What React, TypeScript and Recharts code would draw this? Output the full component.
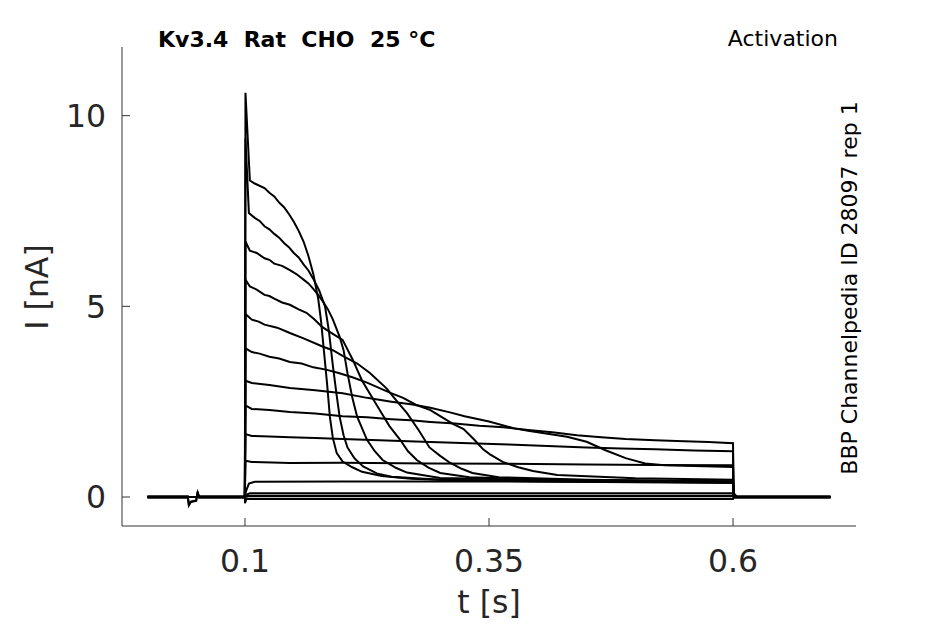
import React from "react";
import { LineChart, Line, XAxis, YAxis } from "recharts";

// current traces, [t (s), I (nA)], one per voltage step
const trace01: [number, number][] = [
  [0, 0], [0.0999, 0], [0.1005, 10.6], [0.105, 8.3], [0.11, 8.22], [0.12, 8.1], [0.125, 7.98],
  [0.13, 7.88], [0.135, 7.72], [0.14, 7.6], [0.145, 7.42], [0.15, 7.22], [0.155, 6.98], [0.16, 6.7],
  [0.165, 6.32], [0.17, 5.85], [0.175, 5.2], [0.178, 4.6], [0.181, 3.8], [0.184, 3.0], [0.187, 2.1],
  [0.19, 1.55], [0.194, 1.15], [0.2, 0.93], [0.21, 0.78], [0.22, 0.66], [0.24, 0.55], [0.27, 0.48],
  [0.3, 0.45], [0.4, 0.42], [0.5, 0.4], [0.6, 0.38], [0.6005, 0.08], [0.604, 0], [0.7, 0],
];
const trace02: [number, number][] = [
  [0, 0], [0.0999, 0], [0.1005, 9.4], [0.104, 7.45], [0.11, 7.32], [0.115, 7.24], [0.12, 7.1],
  [0.125, 7.02], [0.13, 6.9], [0.135, 6.8], [0.14, 6.66], [0.145, 6.55], [0.15, 6.4], [0.155, 6.28],
  [0.16, 6.1], [0.165, 5.94], [0.17, 5.72], [0.176, 5.42], [0.182, 5.0], [0.186, 4.35], [0.19, 3.45],
  [0.194, 2.65], [0.197, 2.1], [0.201, 1.62], [0.205, 1.3], [0.212, 1.02], [0.221, 0.8], [0.235, 0.62],
  [0.25, 0.53], [0.3, 0.45], [0.4, 0.41], [0.5, 0.39], [0.6, 0.37], [0.6005, 0.08], [0.604, 0], [0.7, 0],
];
const trace03: [number, number][] = [
  [0, 0], [0.0999, 0], [0.1005, 6.7], [0.105, 6.46], [0.112, 6.4], [0.12, 6.26], [0.125, 6.22],
  [0.13, 6.12], [0.138, 6.06], [0.146, 5.95], [0.153, 5.84], [0.16, 5.7], [0.165, 5.6], [0.17, 5.46],
  [0.175, 5.3], [0.18, 5.12], [0.185, 4.92], [0.19, 4.66], [0.197, 4.2], [0.201, 3.85], [0.205, 3.25],
  [0.21, 2.6], [0.215, 2.1], [0.225, 1.5], [0.233, 1.2], [0.241, 0.97], [0.255, 0.76], [0.266, 0.64],
  [0.3, 0.5], [0.4, 0.45], [0.5, 0.42], [0.6, 0.4], [0.6005, 0.08], [0.604, 0], [0.7, 0],
];
const trace04: [number, number][] = [
  [0, 0], [0.0999, 0], [0.1005, 5.7], [0.105, 5.52], [0.112, 5.44], [0.12, 5.3], [0.125, 5.27],
  [0.13, 5.2], [0.138, 5.1], [0.146, 5.04], [0.155, 4.92], [0.163, 4.83], [0.171, 4.66], [0.179, 4.46],
  [0.19, 4.28], [0.2, 4.12], [0.21, 3.62], [0.22, 3.05], [0.23, 2.62], [0.238, 2.28], [0.248, 1.86],
  [0.259, 1.5], [0.267, 1.2], [0.276, 0.97], [0.288, 0.77], [0.3, 0.63], [0.33, 0.52], [0.4, 0.46],
  [0.5, 0.43], [0.6, 0.41], [0.6005, 0.08], [0.604, 0], [0.7, 0],
];
const trace05: [number, number][] = [
  [0, 0], [0.0999, 0], [0.1005, 4.8], [0.107, 4.65], [0.114, 4.6], [0.12, 4.52], [0.133, 4.44],
  [0.146, 4.3], [0.16, 4.16], [0.18, 3.94], [0.19, 3.85], [0.2, 3.7], [0.215, 3.5], [0.228, 3.25],
  [0.245, 2.85], [0.256, 2.5], [0.266, 2.2], [0.278, 1.75], [0.289, 1.3], [0.3, 1.08], [0.31, 0.9],
  [0.322, 0.74], [0.333, 0.63], [0.36, 0.52], [0.45, 0.45], [0.6, 0.41], [0.6005, 0.08], [0.604, 0], [0.7, 0],
];
const trace06: [number, number][] = [
  [0, 0], [0.0999, 0], [0.1005, 3.9], [0.107, 3.8], [0.115, 3.76], [0.125, 3.68], [0.135, 3.63],
  [0.146, 3.54], [0.158, 3.5], [0.17, 3.4], [0.183, 3.34], [0.196, 3.25], [0.21, 3.14], [0.225, 3.0],
  [0.249, 2.73], [0.262, 2.6], [0.275, 2.42], [0.29, 2.28], [0.3, 2.12], [0.313, 1.92], [0.324, 1.78],
  [0.335, 1.5], [0.344, 1.25], [0.351, 1.12], [0.364, 0.92], [0.38, 0.78], [0.395, 0.68], [0.42, 0.58],
  [0.5, 0.49], [0.6, 0.45], [0.6005, 0.08], [0.604, 0], [0.7, 0],
];
const trace07: [number, number][] = [
  [0, 0], [0.0999, 0], [0.1005, 3.05], [0.107, 2.99], [0.125, 2.94], [0.146, 2.86], [0.172, 2.8],
  [0.2, 2.72], [0.225, 2.6], [0.25, 2.5], [0.27, 2.43], [0.29, 2.34], [0.31, 2.22], [0.325, 2.12],
  [0.35, 1.98], [0.376, 1.8], [0.39, 1.74], [0.405, 1.68], [0.43, 1.58], [0.45, 1.45], [0.47, 1.22],
  [0.49, 1.02], [0.51, 0.88], [0.53, 0.83], [0.6, 0.79], [0.6005, 0.08], [0.604, 0], [0.7, 0],
];
const trace08: [number, number][] = [
  [0, 0], [0.0999, 0], [0.1005, 2.4], [0.107, 2.31], [0.125, 2.28], [0.146, 2.23], [0.172, 2.19],
  [0.2, 2.12], [0.225, 2.09], [0.25, 2.04], [0.27, 2.01], [0.29, 1.97], [0.315, 1.93], [0.34, 1.87],
  [0.365, 1.83], [0.39, 1.76], [0.415, 1.7], [0.44, 1.62], [0.465, 1.57], [0.49, 1.52], [0.52, 1.49],
  [0.55, 1.46], [0.575, 1.44], [0.6, 1.41], [0.6005, 0.1], [0.604, 0], [0.7, 0],
];
const trace09: [number, number][] = [
  [0, 0], [0.0999, 0], [0.1005, 1.65], [0.107, 1.6], [0.125, 1.59], [0.146, 1.57], [0.172, 1.55],
  [0.2, 1.52], [0.245, 1.48], [0.29, 1.44], [0.33, 1.41], [0.37, 1.38], [0.41, 1.34], [0.45, 1.3],
  [0.485, 1.27], [0.52, 1.25], [0.56, 1.22], [0.6, 1.2], [0.6005, 0.1], [0.604, 0], [0.7, 0],
];
const trace10: [number, number][] = [
  [0, 0], [0.0999, 0], [0.1005, 0.95], [0.107, 0.92], [0.146, 0.89], [0.2, 0.9], [0.29, 0.88],
  [0.37, 0.87], [0.45, 0.85], [0.52, 0.84], [0.6, 0.83], [0.6005, 0.06], [0.604, 0], [0.7, 0],
];
const trace11: [number, number][] = [
  [0, 0], [0.0999, 0], [0.101, 0.15], [0.104, 0.35], [0.11, 0.4], [0.2, 0.41], [0.3, 0.41],
  [0.45, 0.4], [0.6, 0.4], [0.6005, 0.04], [0.604, 0], [0.7, 0],
];
const trace12: [number, number][] = [
  [0, 0], [0.0999, 0], [0.101, 0.05], [0.105, 0.1], [0.6, 0.1], [0.6005, 0.02], [0.604, 0], [0.7, 0],
];
const trace13: [number, number][] = [
  [0, 0], [0.0999, 0], [0.105, 0.03], [0.6, 0.03], [0.6005, 0], [0.7, 0],
];
const trace14: [number, number][] = [
  [0, 0.02], [0.0415, 0.02], [0.0425, -0.2], [0.0445, -0.12], [0.05, -0.09], [0.0515, 0.12],
  [0.053, 0.02], [0.7, 0.02],
];
const trace15: [number, number][] = [
  [0, -0.02], [0.0415, -0.02], [0.0425, -0.22], [0.0445, -0.13], [0.05, -0.1], [0.0515, 0.14],
  [0.053, -0.02], [0.0999, -0.02], [0.1, -0.16], [0.1015, -0.05], [0.6, -0.05], [0.6005, -0.02],
  [0.7, -0.02],
];

const traces = [
  trace01, trace02, trace03, trace04, trace05, trace06, trace07, trace08,
  trace09, trace10, trace11, trace12, trace13, trace14, trace15,
];

const xTicks = [0.1, 0.35, 0.6];
const yTicks = [0, 5, 10];

const FONT = "DejaVu Sans";
const TEXT = "#262626";

const App: React.FC = () => {
  const series = traces.map((tr) => tr.map(([t, i]) => ({ t, i })));

  return (
    <div style={{ position: "fixed", left: 0, top: 0, width: 945, height: 624, background: "#fff" }}>
      <LineChart width={945} height={624} margin={{ top: 47, right: 89, bottom: 58, left: 62 }}>
        <XAxis
          dataKey="t"
          type="number"
          domain={[-0.026, 0.726]}
          ticks={xTicks}
          allowDataOverflow
          height={40}
          stroke="#333"
          tickSize={-8}
          tickMargin={32}
          tick={{ fontSize: 31.5, fill: TEXT, fontFamily: FONT }}
        />
        <YAxis
          type="number"
          domain={[-0.76, 11.8]}
          ticks={yTicks}
          allowDataOverflow
          width={60}
          stroke="#333"
          tickSize={-8}
          tickMargin={24}
          tick={{ fontSize: 31.5, fill: TEXT, fontFamily: FONT }}
        />
        {series.map((d, k) => (
          <Line
            key={k}
            data={d}
            dataKey="i"
            type="linear"
            stroke="#000"
            strokeWidth={2}
            dot={false}
            isAnimationActive={false}
          />
        ))}
      </LineChart>

      <svg
        width={945}
        height={624}
        style={{ position: "absolute", left: 0, top: 0, pointerEvents: "none" }}
        fontFamily={FONT}
      >
        <text x={158} y={47} fontSize={22} fontWeight="bold" fill="#000" style={{ whiteSpace: "pre" }}>
          {"Kv3.4  Rat  CHO  25 °C"}
        </text>
        <text x={838} y={46} fontSize={22} textAnchor="end" fill="#000">
          Activation
        </text>
        <text transform="translate(857,288) rotate(-90)" fontSize={22} textAnchor="middle" fill="#000">
          BBP Channelpedia ID 28097 rep 1
        </text>
        <text transform="translate(48,287) rotate(-90)" fontSize={31.5} textAnchor="middle" fill={TEXT}>
          I [nA]
        </text>
        <text x={489} y={613} fontSize={31.5} textAnchor="middle" fill={TEXT}>
          t [s]
        </text>
      </svg>
    </div>
  );
};

export default App;
